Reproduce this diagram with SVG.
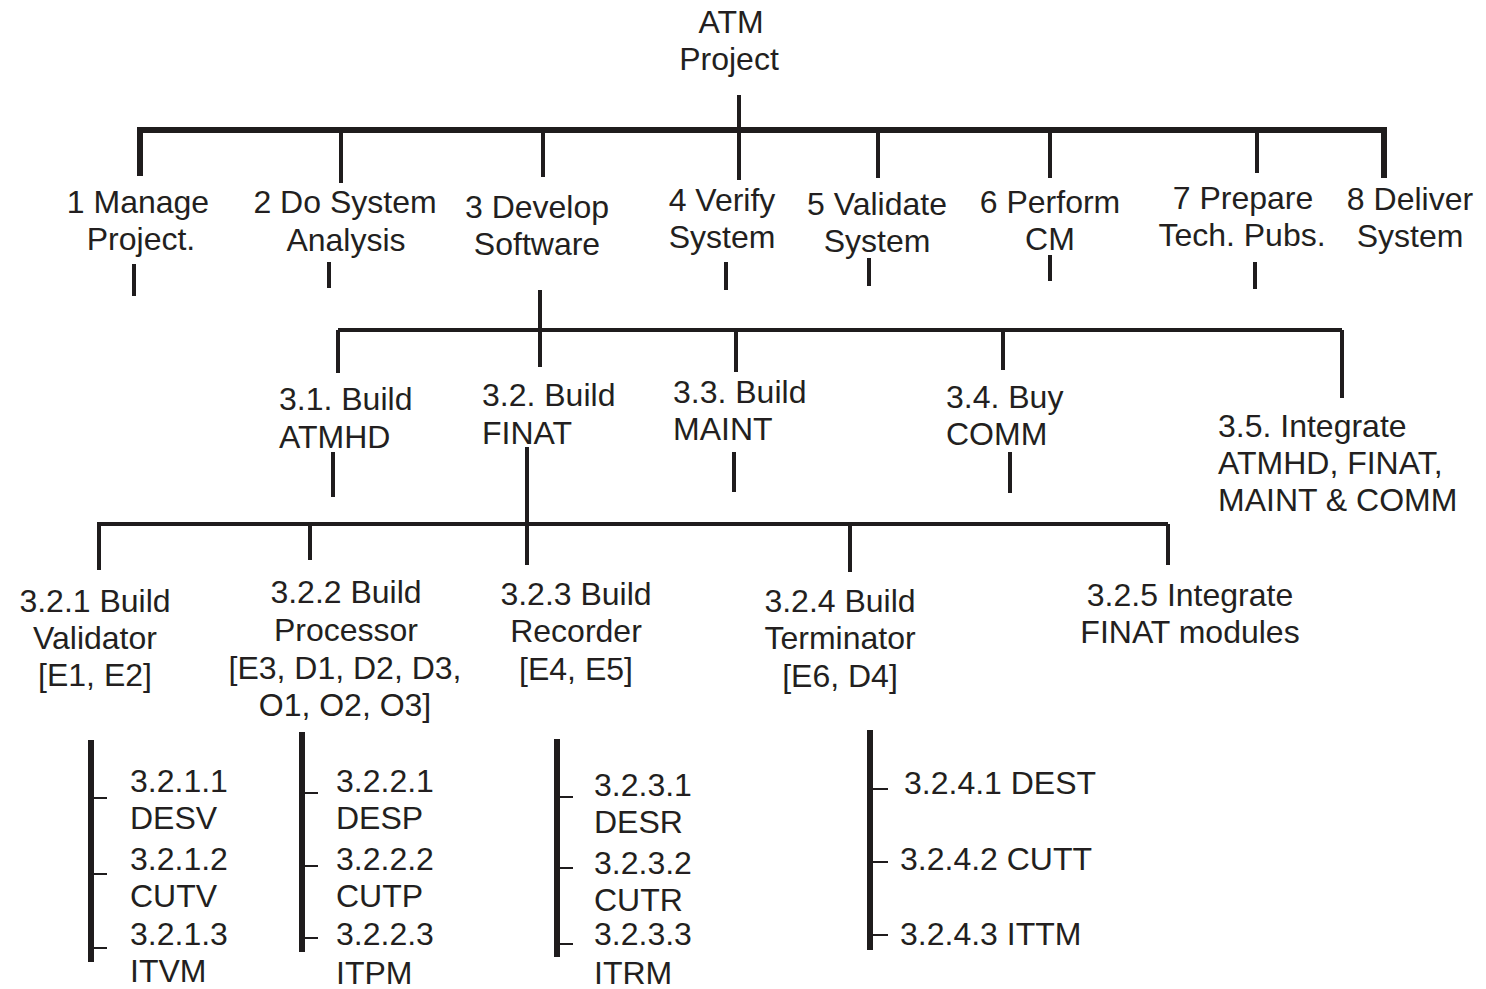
<svg xmlns="http://www.w3.org/2000/svg" width="1486" height="989" viewBox="0 0 1486 989">
<style>
text{font-family:"Liberation Sans",Arial,sans-serif;font-size:32px;fill:#231f20}
.c{text-anchor:middle}
.l{stroke:#1f1c1d;fill:none;stroke-linecap:butt}
.k{stroke-width:6}
.m{stroke-width:4}
.t{stroke-width:2}
</style>
<rect width="1486" height="989" fill="#fff"/>
<g id="connectors">
<path class="l m" d="M739 95V180"/>
<path class="l k" d="M137 130H1387M140 130V176M1384 130V178"/>
<path class="l m" d="M341 130V183M543 130V177M878 130V178M1050 130V178M1257 130V173"/>
<path class="l m" d="M134 264V296M329 262V288M726 262V290M869 258V286M1050 255V281M1255 262V289"/>
<path class="l m" d="M540 290V367M338 330H1342M338 330V373M736 330V372M1003 330V370M1342 330V398"/>
<path class="l m" d="M333 452V497M734 452V492M1010 452V493"/>
<path class="l m" d="M527 447V565M97 524H1168M99 524V570M310 524V560M850 524V572M1168 524V565"/>
<path class="l k" d="M91 740V962M302 732V952M557 739V957M870 730V950"/>
<path class="l t" d="M91 798H107M91 874H107M91 948H107M302 793H318M302 866H318M302 938H318M557 797H573M557 868H573M557 944H573M870 789H888M870 862H888M870 935H888"/>
</g>
<g id="atm"><text class="c" x="731" y="33">ATM</text><text class="c" x="729" y="70">Project</text></g>
<g id="n1"><text class="c" x="138" y="213">1 Manage</text><text class="c" x="141" y="250">Project.</text></g>
<g id="n2"><text class="c" x="345" y="213">2 Do System</text><text class="c" x="346" y="251">Analysis</text></g>
<g id="n3"><text class="c" x="537" y="218">3 Develop</text><text class="c" x="537" y="255">Software</text></g>
<g id="n4"><text class="c" x="722" y="211">4 Verify</text><text class="c" x="722" y="248">System</text></g>
<g id="n5"><text class="c" x="877" y="215">5 Validate</text><text class="c" x="877" y="252">System</text></g>
<g id="n6"><text class="c" x="1050" y="213">6 Perform</text><text class="c" x="1050" y="250">CM</text></g>
<g id="n7"><text class="c" x="1243" y="209">7 Prepare</text><text class="c" x="1242" y="246">Tech. Pubs.</text></g>
<g id="n8"><text class="c" x="1410" y="210">8 Deliver</text><text class="c" x="1410" y="247">System</text></g>
<g id="n31"><text x="279" y="410">3.1. Build</text><text x="279" y="448">ATMHD</text></g>
<g id="n32"><text x="482" y="406">3.2. Build</text><text x="482" y="444">FINAT</text></g>
<g id="n33"><text x="673" y="403">3.3. Build</text><text x="673" y="440">MAINT</text></g>
<g id="n34"><text x="946" y="408">3.4. Buy</text><text x="946" y="445">COMM</text></g>
<g id="n35"><text x="1218" y="437">3.5. Integrate</text><text x="1218" y="474">ATMHD, FINAT,</text><text x="1218" y="511">MAINT &amp; COMM</text></g>
<g id="n321"><text class="c" x="95" y="612">3.2.1 Build</text><text class="c" x="95" y="649">Validator</text><text class="c" x="95" y="686">[E1, E2]</text></g>
<g id="n322"><text class="c" x="346" y="603">3.2.2 Build</text><text class="c" x="346" y="641">Processor</text><text class="c" x="345" y="679">[E3, D1, D2, D3,</text><text class="c" x="345" y="716">O1, O2, O3]</text></g>
<g id="n323"><text class="c" x="576" y="605">3.2.3 Build</text><text class="c" x="576" y="642">Recorder</text><text class="c" x="576" y="680">[E4, E5]</text></g>
<g id="n324"><text class="c" x="840" y="612">3.2.4 Build</text><text class="c" x="840" y="649">Terminator</text><text class="c" x="840" y="687">[E6, D4]</text></g>
<g id="n325"><text class="c" x="1190" y="606">3.2.5 Integrate</text><text class="c" x="1190" y="643">FINAT modules</text></g>
<g id="n3211"><text x="130" y="792">3.2.1.1</text><text x="130" y="829">DESV</text></g>
<g id="n3212"><text x="130" y="870">3.2.1.2</text><text x="130" y="907">CUTV</text></g>
<g id="n3213"><text x="130" y="945">3.2.1.3</text><text x="130" y="982">ITVM</text></g>
<g id="n3221"><text x="336" y="792">3.2.2.1</text><text x="336" y="829">DESP</text></g>
<g id="n3222"><text x="336" y="870">3.2.2.2</text><text x="336" y="907">CUTP</text></g>
<g id="n3223"><text x="336" y="945">3.2.2.3</text><text x="336" y="984">ITPM</text></g>
<g id="n3231"><text x="594" y="796">3.2.3.1</text><text x="594" y="833">DESR</text></g>
<g id="n3232"><text x="594" y="874">3.2.3.2</text><text x="594" y="911">CUTR</text></g>
<g id="n3233"><text x="594" y="945">3.2.3.3</text><text x="594" y="984">ITRM</text></g>
<g id="n3241"><text x="904" y="794">3.2.4.1 DEST</text></g>
<g id="n3242"><text x="900" y="870">3.2.4.2 CUTT</text></g>
<g id="n3243"><text x="900" y="945">3.2.4.3 ITTM</text></g>
</svg>
